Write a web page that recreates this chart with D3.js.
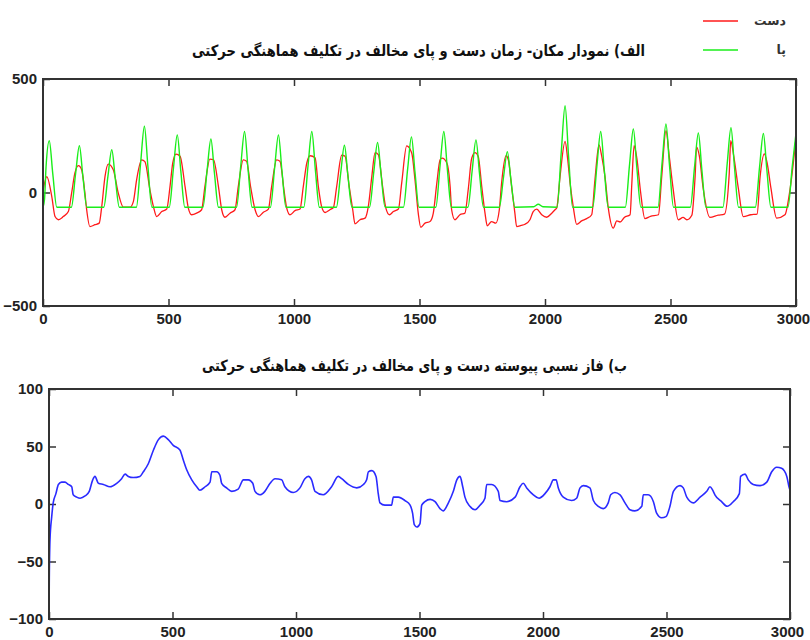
<!DOCTYPE html>
<html><head><meta charset="utf-8">
<script src="https://cdn.jsdelivr.net/npm/d3@7"></script>
<style>
body{margin:0;background:#fff;}
.tick text{font-family:"Liberation Sans",Arial,sans-serif;font-weight:bold;font-size:15px;fill:#222;}
.tick line{stroke:#333;stroke-width:1.5;}
</style></head>
<body>
<svg id="c" width="810" height="640"></svg>
<script>
// ---- data ----
const xTicks = [0, 500, 1000, 1500, 2000, 2500, 3000];
const yTicksTop = [-500, 0, 500];
const yTicksBottom = [-100, -50, 0, 50, 100];
const titleTop = "الف) نمودار مکان- زمان دست و پای مخالف در تکلیف هماهنگی حرکتی";
const titleBottom = "ب) فاز نسبی پیوسته دست و پای مخالف در تکلیف هماهنگی حرکتی";
const legendLabels = ["دست", "پا"];

// hand (red) position over time
const handPos = [[0,5],[15,70],[35,-18],[48,-106],[61,-120],[81,-106],[101,-84],[114,-3],[127,85],[141,118],[154,100],[167,-3],[174,-76],[187,-150],[207,-142],[224,-135],[234,-62],[247,70],[260,125],[280,100],[300,-3],[320,-64],[347,-64],[360,-40],[373,56],[393,144],[406,136],[426,12],[440,-62],[453,-106],[473,-84],[493,-73],[506,26],[517,130],[530,169],[546,160],[566,26],[579,-69],[592,-98],[612,-91],[632,-76],[645,26],[665,147],[679,145],[699,26],[712,-76],[725,-109],[745,-91],[765,-76],[778,26],[798,144],[811,138],[827,26],[845,-76],[858,-106],[878,-87],[898,-73],[911,26],[931,144],[944,138],[960,12],[971,-69],[984,-98],[1004,-80],[1024,-73],[1037,26],[1051,130],[1064,162],[1084,153],[1097,26],[1110,-62],[1124,-88],[1143,-76],[1157,-66],[1170,26],[1190,164],[1203,160],[1220,26],[1234,-76],[1243,-138],[1263,-120],[1283,-113],[1296,-62],[1310,70],[1323,176],[1336,167],[1353,26],[1366,-69],[1380,-98],[1396,-84],[1416,-73],[1429,41],[1449,205],[1469,174],[1482,56],[1495,-91],[1505,-153],[1522,-135],[1542,-128],[1555,-91],[1569,41],[1582,144],[1590,151],[1609,130],[1622,26],[1628,-76],[1641,-120],[1661,-98],[1681,-91],[1694,12],[1708,151],[1721,176],[1734,159],[1748,26],[1761,-91],[1770,-147],[1787,-128],[1804,-135],[1818,-76],[1827,41],[1845,162],[1854,144],[1867,26],[1880,-91],[1887,-150],[1905,-145],[1920,-140],[1940,-120],[1953,-84],[1967,-73],[1987,-98],[2007,-109],[2027,-91],[2040,-76],[2047,-67],[2060,70],[2080,225],[2090,150],[2100,41],[2113,-67],[2126,-140],[2146,-125],[2166,-115],[2186,-98],[2199,56],[2215,210],[2226,160],[2239,70],[2252,-67],[2272,-157],[2286,-125],[2299,-130],[2316,-110],[2339,-98],[2346,41],[2355,206],[2366,150],[2380,10],[2398,-115],[2420,-105],[2452,-98],[2465,70],[2482,272],[2495,160],[2510,20],[2531,-120],[2550,-110],[2565,-120],[2585,-100],[2598,70],[2604,200],[2615,160],[2630,20],[2657,-110],[2690,-100],[2715,-95],[2734,84],[2740,228],[2752,160],[2770,20],[2790,-106],[2820,-98],[2845,-95],[2857,70],[2874,170],[2885,130],[2900,20],[2923,-113],[2956,-98],[2976,12],[3000,240]];

// foot (green) position over time
const footPos = [[0,-65],[6,-30],[12,110],[25,228],[39,82],[55,-65],
[113,-65],[130,84],[145,206],[159,70],[175,-65],
[242,-65],[259,74],[274,188],[288,62],[304,-65],
[372,-65],[389,131],[404,292],[418,114],[434,-65],
[503,-65],[520,110],[535,254],[549,95],[565,-65],
[637,-65],[654,101],[669,236],[683,86],[699,-65],
[771,-65],[788,119],[803,269],[817,102],[833,-65],
[906,-65],[923,110],[938,254],[952,95],[968,-65],
[1039,-65],[1056,119],[1071,269],[1085,102],[1101,-65],
[1169,-65],[1186,85],[1201,208],[1215,72],[1231,-65],
[1301,-65],[1318,92],[1333,220],[1347,78],[1363,-65],
[1436,-65],[1453,106],[1468,245],[1482,90],[1498,-65],
[1565,-65],[1582,119],[1597,269],[1611,102],[1627,-65],
[1693,-65],[1710,98],[1725,232],[1739,84],[1755,-65],
[1818,-65],[1835,70],[1850,180],[1864,58],[1880,-65],
[1955,-63],[1973,-52],[1992,-63],[2048,-65],
[2065,181],[2080,382],[2094,158],[2110,-65],
[2190,-65],[2207,119],[2222,269],[2236,102],[2252,-65],
[2320,-65],[2337,125],[2352,280],[2366,108],[2382,-65],
[2450,-65],[2467,137],[2482,302],[2496,119],[2512,-65],
[2579,-65],[2596,115],[2611,262],[2625,99],[2641,-65],
[2709,-65],[2726,128],[2741,285],[2755,110],[2771,-65],
[2838,-65],[2855,114],[2870,260],[2884,98],[2900,-65],
[2968,-65],[2985,114],[3000,262]];

// continuous relative phase (blue)
const relPhase = [[0,-99],[1,-69],[4,-31],[11,-11],[17,1],[28,9],[38,17],[51,19],[65,19],[78,17],[92,15],[98,8],[112,6],[126,5],[146,7],[163,11],[177,21],[186,24],[200,18],[220,17],[247,15],[274,18],[294,22],[308,26],[321,24],[341,23],[368,24],[382,28],[402,35],[423,47],[443,56],[463,59],[483,56],[503,51],[530,47],[544,38],[557,30],[578,21],[598,15],[611,12],[632,15],[652,19],[659,28],[679,28],[692,25],[699,18],[719,14],[740,11],[766,13],[787,21],[807,21],[825,18],[834,11],[854,8],[874,11],[895,18],[915,22],[942,21],[955,15],[989,10],[1016,14],[1036,22],[1050,24],[1063,21],[1077,11],[1110,8],[1144,15],[1171,24],[1185,22],[1212,17],[1246,14],[1273,17],[1286,21],[1293,28],[1307,29],[1324,24],[1333,9],[1340,1],[1360,-1],[1387,-1],[1394,6],[1414,6],[1441,3],[1462,-1],[1472,-8],[1479,-18],[1489,-20],[1502,-17],[1509,-1],[1522,2],[1543,4],[1563,2],[1583,-4],[1596,-6],[1617,1],[1637,11],[1651,21],[1664,24],[1675,15],[1684,6],[1704,-2],[1725,-5],[1745,-1],[1765,5],[1772,17],[1792,17],[1819,11],[1826,3],[1853,2],[1887,6],[1907,15],[1920,18],[1934,14],[1961,8],[1984,5],[2008,9],[2028,15],[2042,21],[2053,21],[2062,14],[2082,6],[2116,3],[2136,5],[2150,14],[2163,16],[2190,14],[2204,3],[2224,-2],[2244,-4],[2264,1],[2274,8],[2291,10],[2312,8],[2332,1],[2352,-5],[2372,-6],[2400,-2],[2406,8],[2426,8],[2447,2],[2460,-8],[2480,-12],[2498,-11],[2514,-2],[2528,11],[2555,16],[2568,14],[2582,6],[2609,1],[2636,6],[2663,11],[2676,15],[2687,12],[2696,8],[2723,2],[2746,-2],[2770,2],[2795,9],[2800,24],[2818,26],[2831,21],[2851,17],[2879,16],[2906,19],[2926,28],[2946,32],[2966,31],[2987,24],[2997,14],[3000,12]];

// ---- drawing ----
const svg = d3.select("#c");
svg.append("rect").attr("width",810).attr("height",640).attr("fill","#fff");

function panel(id, xRange, yRange, yDomain, yTicks, series, title, titleY, titleLen, titleShift) {
  const x = d3.scaleLinear().domain([0,3000]).range(xRange);
  const y = d3.scaleLinear().domain(yDomain).range(yRange);
  const g = svg.append("g");
  g.append("clipPath").attr("id", id).append("rect")
    .attr("x", xRange[0]).attr("y", yRange[1]).attr("width", xRange[1]-xRange[0]).attr("height", yRange[0]-yRange[1]);

  const ax = (gen, tr) => {
    const a = g.append("g").attr("transform", tr).call(gen);
    a.select(".domain").remove();
    return a;
  };
  const bx = ax(d3.axisBottom(x).tickValues(xTicks).tickSizeInner(-7).tickSizeOuter(0).tickPadding(7).tickFormat(d3.format("d")), `translate(0,${yRange[0]})`);
  // keep the last label inside the page edge
  bx.selectAll(".tick text").filter(d => d === 3000).attr("dx", -3);
  ax(d3.axisTop(x).tickValues(xTicks).tickSizeInner(-7).tickSizeOuter(0).tickFormat(""), `translate(0,${yRange[1]})`);
  ax(d3.axisLeft(y).tickValues(yTicks).tickSizeInner(-7).tickSizeOuter(0).tickPadding(6).tickFormat(d3.format("d")), `translate(${xRange[0]},0)`);
  ax(d3.axisRight(y).tickValues(yTicks).tickSizeInner(-7).tickSizeOuter(0).tickFormat(""), `translate(${xRange[1]},0)`);

  const line = d3.line().x(d => x(d[0])).y(d => y(d[1])).curve(d3.curveMonotoneX);
  const lg = g.append("g").attr("clip-path", `url(#${id})`);
  series.forEach(s => {
    lg.append("path").datum(s.data).attr("d", line)
      .attr("fill","none").attr("stroke", s.color).attr("stroke-width", s.w).attr("stroke-linejoin","round");
  });

  g.append("rect").attr("x", xRange[0]).attr("y", yRange[1])
    .attr("width", xRange[1]-xRange[0]).attr("height", yRange[0]-yRange[1])
    .attr("fill","none").attr("stroke","#333").attr("stroke-width",2);

  g.append("text").attr("x", (xRange[0]+xRange[1])/2 + titleShift).attr("y", titleY)
    .attr("text-anchor","middle").attr("direction","rtl")
    .attr("font-family","DejaVu Sans, sans-serif").attr("font-weight","bold").attr("font-size",15.5)
    .attr("fill","#111")
    .attr("textLength", titleLen).attr("lengthAdjust","spacingAndGlyphs")
    .text(title);
}

panel("ca", [43,796], [306,79], [-500,500], yTicksTop,
  [{data: handPos, color:"#ff1a1a", w:1.3}, {data: footPos, color:"#1aee1a", w:1.4}],
  titleTop, 56, 453, -1);

panel("cb", [49,790], [619,389], [-100,100], yTicksBottom,
  [{data: relPhase, color:"#2b2bff", w:1.6}],
  titleBottom, 371, 425, -5);

// legend
const legendColors = ["#ff1a1a", "#1aee1a"];
const legendY = [21, 50];
legendLabels.forEach((lab, i) => {
  svg.append("line").attr("x1",703).attr("x2",738).attr("y1",legendY[i]).attr("y2",legendY[i])
    .attr("stroke", legendColors[i]).attr("stroke-width",1.6);
  svg.append("text").attr("x",786).attr("y",legendY[i]+4).attr("text-anchor","end")
    .attr("font-family","DejaVu Sans, sans-serif").attr("font-size",12.5).attr("font-weight","bold").attr("fill","#333")
    .text(lab);
});
</script>
</body></html>
